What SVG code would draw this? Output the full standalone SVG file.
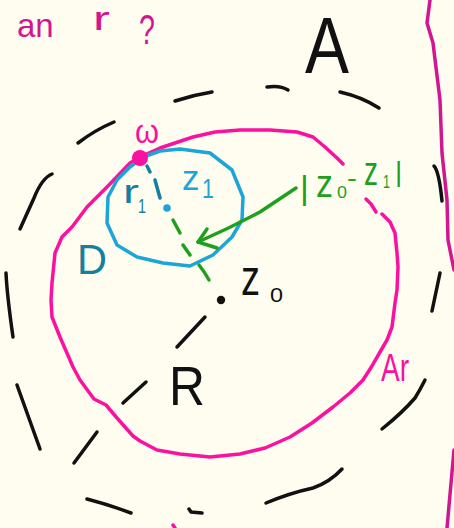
<svg xmlns="http://www.w3.org/2000/svg" width="454" height="528" viewBox="0 0 454 528">
<style>
.ln{fill:none;stroke-linecap:round;stroke-linejoin:round;stroke-width:3.5}
.k{stroke:#111}
.p{stroke:#FA119F}
.dp{stroke:#D2168F}
.b{stroke:#1DA5D8}
.t{stroke:#167F9E}
.g{stroke:#1E9F1E}
text{font-family:"Liberation Sans","DejaVu Sans",sans-serif}
</style>
<rect width="454" height="528" fill="#FFFDF0"/>

<g id="note">
<text fill="#D2168F" font-size="33"><tspan x="17" y="37">an</tspan> <tspan x="93" y="30" textLength="17" lengthAdjust="spacingAndGlyphs">r</tspan> <tspan x="139" y="44" font-size="42" textLength="16" lengthAdjust="spacingAndGlyphs">?</tspan></text>
</g>

<g id="edge">
<path class="ln dp" d="M430,0 L427,23 L433,43 L440,100 L442,153 L447,200 L448,240 L454,270"/>
<path class="ln dp" d="M454,450 L447,528"/>
</g>

<g id="regionA">
<path class="ln k" d="M175,101 Q193,95 212,92"/>
<path class="ln k" d="M267,87 Q280,85 288,90"/>
<path class="ln k" d="M340,92 Q362,97 379,108"/>
<path class="ln k" d="M78,143 Q95,130 114,122"/>
<path class="ln k" d="M52,174 Q42,178 34,198 L20,229"/>
<path class="ln k" d="M6,273 Q7,295 13,337"/>
<path class="ln k" d="M17,385 Q27,413 40,449"/>
<path class="ln k" d="M87,499 Q110,505 131,513"/>
<path class="ln k" d="M189,509 L191,512 L202,513"/>
<path class="ln k" d="M266,503 Q290,493 313,488 Q330,482 342,469"/>
<path class="ln k" d="M382,429 Q402,413 415,398 Q420,390 425,380"/>
<path class="ln k" d="M440,273 L432,311"/>
<path class="ln k" d="M434,166 Q439,171 442,201"/>
<text x="305" y="73" font-size="80" fill="#111" textLength="44" lengthAdjust="spacingAndGlyphs">A</text>
</g>

<g id="diskAr">
<path class="ln p" d="M140,157 L160,148 L193,137 L215,132 L240,130 L270,130 L297,132 L313,137 L325,147 L337,158 L343,164"/>
<path class="ln p" d="M366,199 L371,204 L376,212"/>
<path class="ln p" d="M382,214 L390,222 L395,233 L397,253 L398,267 L397,290 L395,303 L392,327 L387,340 L380,352 L372,366 L363,380 L350,393 L333,407 L312,423 L290,437 L265,448 L240,454 L210,457 L180,454 L157,450 L140,441 L133,436 L117,418 L106,405 L94,399 L80,380 L73,367 L60,337 L52,317 L51,300 L52,283 L55,253 L62,237 L72,227 L87,207 L107,187 L130,163 L140,157"/>
<path class="ln p" d="M173,525 L175,528"/>
<text x="381" y="381" font-size="38" fill="#FA119F" textLength="28" lengthAdjust="spacingAndGlyphs">Ar</text>
</g>

<g id="diskD">
<path class="ln b" d="M143,157 L160,151 L180,149 L210,153 L232,170 L243,197 L242,220 L232,237 L213,255 L190,266 L163,263 L137,257 L117,245 L107,223 L108,197 L117,180 L130,167 L143,157"/>
<circle cx="167" cy="208" r="3.8" fill="#1DA5D8"/>
<text fill="#1DA5D8"><tspan x="182" y="190" font-size="35">z</tspan><tspan x="202" y="198" font-size="27" textLength="12" lengthAdjust="spacingAndGlyphs">1</tspan></text>
<text fill="#167F9E"><tspan x="123" y="203" font-size="34" textLength="16" lengthAdjust="spacingAndGlyphs">r</tspan><tspan x="138" y="213" font-size="20" textLength="8" lengthAdjust="spacingAndGlyphs">1</tspan></text>
<text x="77" y="274" font-size="42" fill="#167F9E" textLength="30" lengthAdjust="spacingAndGlyphs">D</text>
</g>

<g id="pointW">
<circle cx="140" cy="158" r="8" fill="#FA119F"/>
<text x="135" y="143" font-size="34" fill="#FA119F" textLength="24" lengthAdjust="spacingAndGlyphs">ω</text>
</g>

<g id="pointZ0">
<circle cx="221" cy="300" r="4.2" fill="#111"/>
<text fill="#111"><tspan x="241" y="295" font-size="50" textLength="19" lengthAdjust="spacingAndGlyphs">z</tspan><tspan x="270" y="302" font-size="20" textLength="13" lengthAdjust="spacingAndGlyphs">0</tspan></text>
<text x="169" y="405" font-size="56" fill="#111" textLength="36" lengthAdjust="spacingAndGlyphs">R</text>
</g>

<g id="label-dist">
<text fill="#1E9F1E"><tspan x="300" y="199" font-size="34">|</tspan><tspan x="316" y="197" font-size="38" textLength="17" lengthAdjust="spacingAndGlyphs">z</tspan><tspan x="337" y="198" font-size="16" textLength="10" lengthAdjust="spacingAndGlyphs">0</tspan><tspan x="347" y="186" font-size="24" textLength="10" lengthAdjust="spacingAndGlyphs">-</tspan><tspan x="364" y="185" font-size="40" textLength="14" lengthAdjust="spacingAndGlyphs">z</tspan><tspan x="383" y="188" font-size="18" textLength="7" lengthAdjust="spacingAndGlyphs">1</tspan><tspan x="395" y="181" font-size="28">|</tspan></text>
</g>

<g id="connectors">
<path class="ln t" d="M147,166 L150,172"/>
<path class="ln t" d="M155,180 L160,198"/>
<path class="ln g" d="M173,220 L180,233"/>
<path class="ln g" d="M183,245 L190,255"/>
<path class="ln g" d="M199,265 Q204,271 209,280"/>
<path class="ln g" d="M296,188 L260,212 Q230,228 198,242"/>
<path class="ln g" d="M207,229 L198,242 L217,248"/>
<path class="ln k" d="M205,317 L177,347"/>
<path class="ln k" d="M146,382 L123,403"/>
<path class="ln k" d="M97,432 L74,463"/>
</g>
</svg>
